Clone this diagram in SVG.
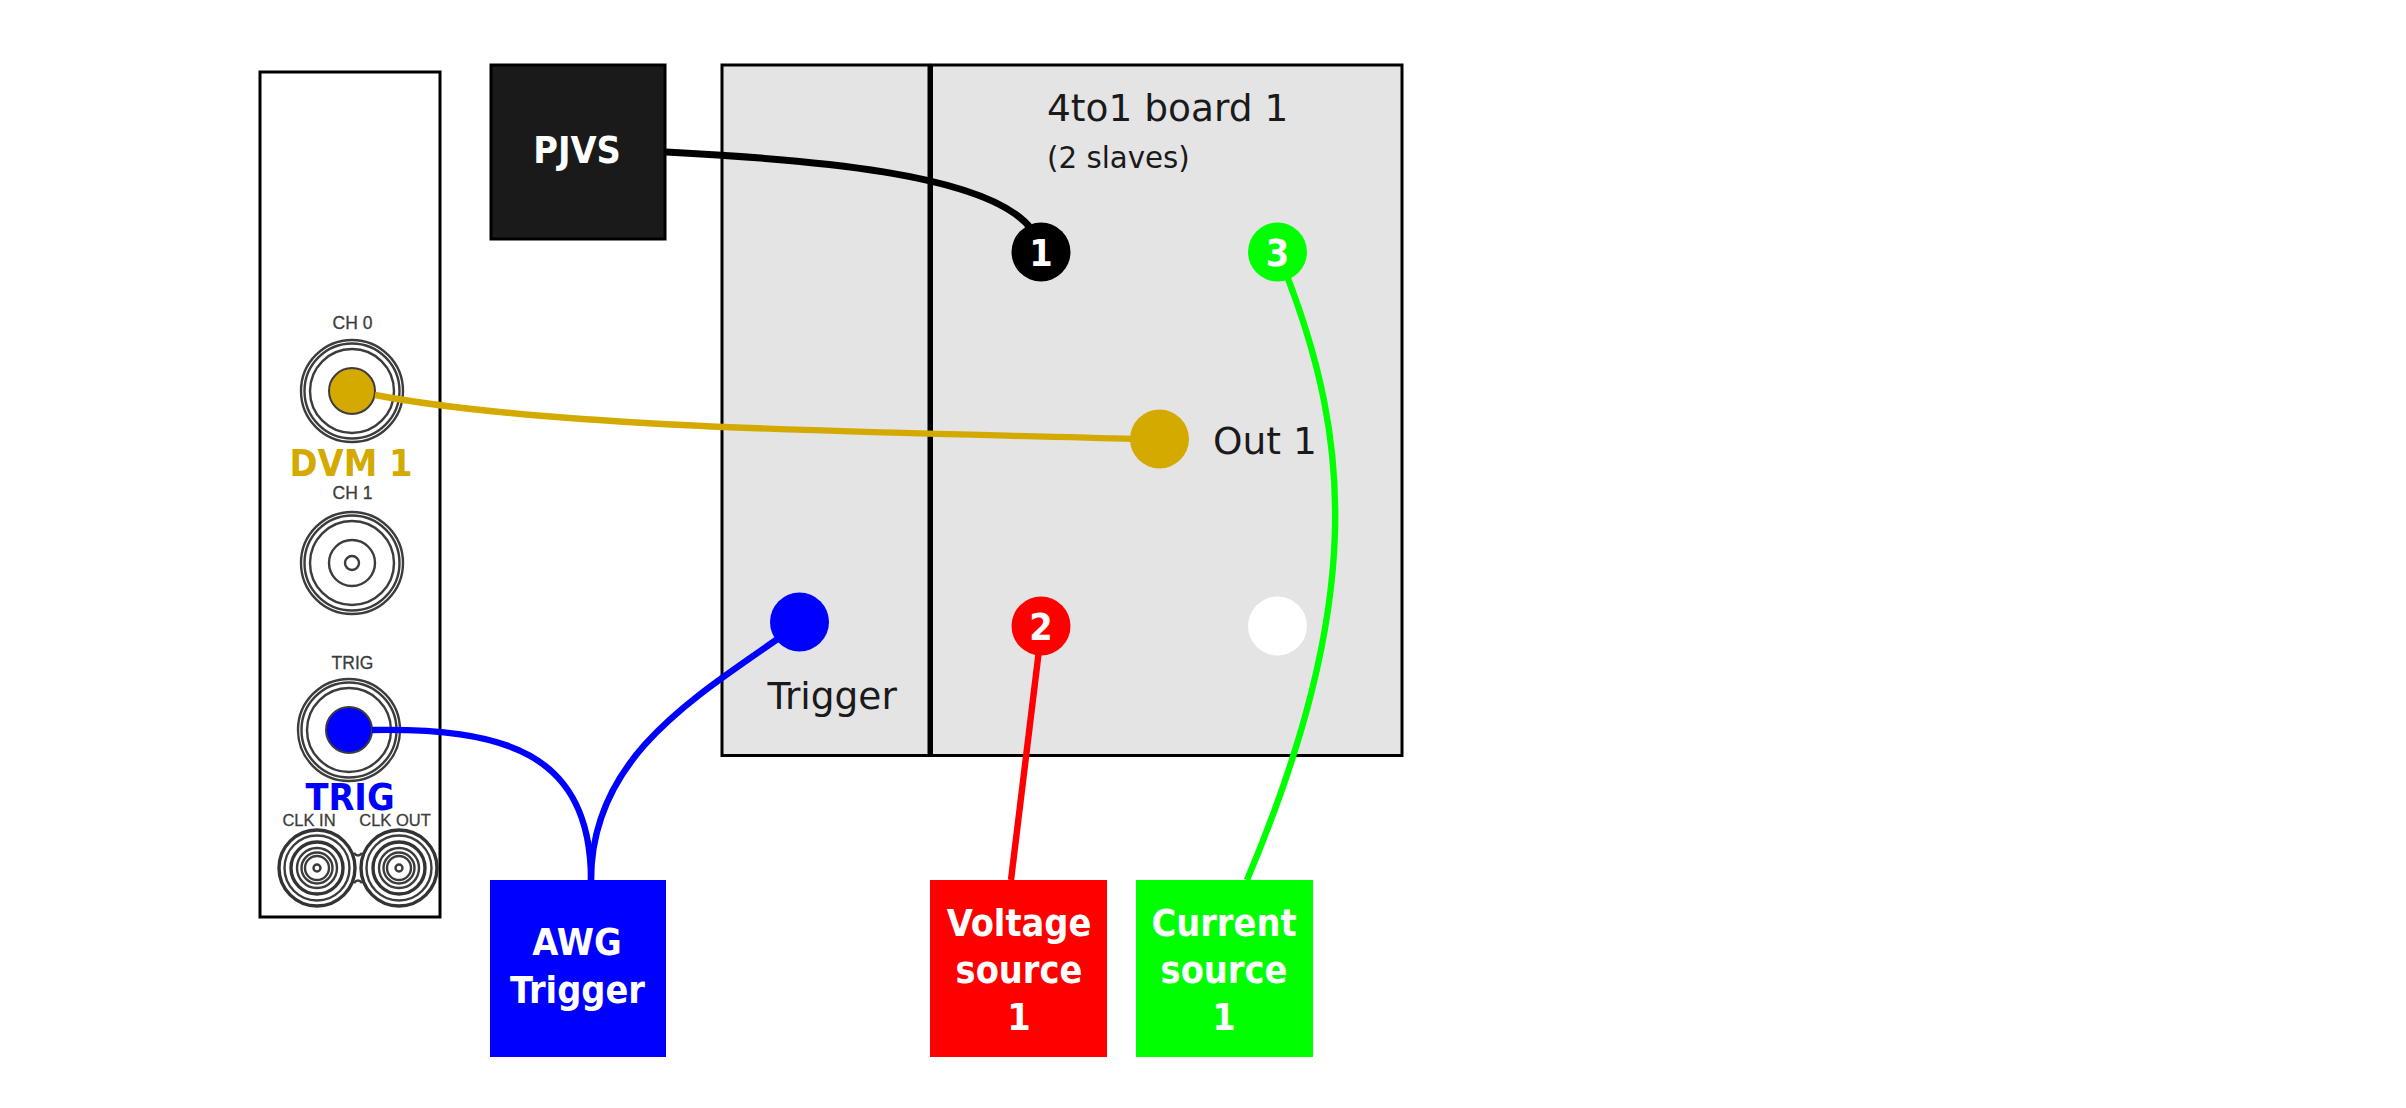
<svg xmlns="http://www.w3.org/2000/svg" width="2406" height="1108" viewBox="0 0 2406 1108">
<style>
text{font-family:"DejaVu Sans",sans-serif;text-anchor:middle}
.lbl{font-family:"DejaVu Sans Condensed","DejaVu Sans",sans-serif;font-stretch:condensed;font-size:37.500px;font-weight:bold;fill:#fff}
.head{font-family:"DejaVu Sans Condensed","DejaVu Sans",sans-serif;font-stretch:condensed;font-size:37.500px;font-weight:bold}
.brd{font-size:37.500px;fill:#1a1a1a;text-anchor:start}
.tiny{font-family:"Liberation Sans",Arial,sans-serif;font-size:17.500px;fill:#3c3c3c;stroke:#3c3c3c;stroke-width:.3}
.ring{fill:none;stroke:#3c3c3c;stroke-width:2.400}
.ring2{fill:none;stroke:#333;stroke-width:3.400}
.wire{fill:none;stroke-width:6.400;stroke-linecap:butt}
.panel{fill:#e4e4e4;stroke:#000;stroke-width:3}
</style>
<defs>
<g id="bnc"><circle r="51" class="ring"/><circle r="47.500" class="ring"/><circle r="42" class="ring"/></g>
<g id="clk"><circle r="38" class="ring2"/><circle r="32.500" class="ring"/><circle r="26" class="ring2"/><circle r="20" class="ring"/><circle r="15.500" class="ring"/><circle r="12" class="ring"/><circle r="3.500" class="ring"/></g>
</defs>
<rect width="2406" height="1108" fill="#fff"/>
<g id="dvm-panel">
<rect x="260" y="72" width="180" height="845" fill="#fff" stroke="#000" stroke-width="3"/>
<text class="tiny" x="352.500" y="329">CH 0</text>
<use href="#bnc" x="352" y="391"/>
<circle cx="352" cy="391" r="23" fill="#d4aa00" stroke="#3c3c3c" stroke-width="2"/>
<text class="head" x="351" y="476" fill="#d4aa00">DVM 1</text>
<text class="tiny" x="352.500" y="499">CH 1</text>
<use href="#bnc" x="352" y="563"/>
<circle cx="352" cy="563" r="23" class="ring"/><circle cx="352" cy="563" r="7" class="ring"/>
<text class="tiny" x="352.500" y="669">TRIG</text>
<use href="#bnc" x="349" y="730"/>
<circle cx="349" cy="730" r="23" fill="#00f" stroke="#3c3c3c" stroke-width="2"/>
<text class="head" x="350" y="810" fill="#00f">TRIG</text>
<text class="tiny" x="309" y="826" style="font-size:16.500px">CLK IN</text>
<text class="tiny" x="395" y="826" style="font-size:16.500px">CLK OUT</text>
<use href="#clk" x="317" y="868"/>
<use href="#clk" x="399" y="868"/>
<path d="M354 853Q358 858 362 853M354 883Q358 878 362 883" class="ring"/>
</g>
<g id="pjvs"><rect x="491" y="65" width="174" height="174" fill="#1a1a1a" stroke="#000" stroke-width="3"/><text class="lbl" x="577" y="163">PJVS</text></g>
<g id="board">
<rect class="panel" x="722" y="65" width="207" height="690.500"/>
<rect class="panel" x="931.500" y="65" width="470.500" height="690.500"/>
<text class="brd" x="1047" y="120.500">4to1 board 1</text>
<text class="brd" style="font-size:29.300px" x="1047" y="168">(2 slaves)</text>
<text class="brd" x="1213" y="454">Out 1</text>
<text class="brd" x="767.500" y="709">Trigger</text>
</g>
<g id="connectors">
<path class="wire" stroke="#000" style="stroke-width:7" d="M666 152C800 159 990 172 1032 230"/>
<path class="wire" stroke="#d4aa00" d="M375 395C560 430 900 432 1135 439"/>
<path class="wire" stroke="#0f0" d="M1287 276C1350 440 1365 600 1247 880"/>
<path class="wire" stroke="#f00" d="M1039 650L1011 880"/>
<path class="wire" stroke="#00f" d="M372 730C500 728 591 750 591 880"/>
<path class="wire" stroke="#00f" d="M779 638C690 700 591 760 591 880"/>
</g>
<g id="pin1"><circle cx="1041" cy="252" r="29.500" fill="#000"/><text class="lbl" x="1041" y="266">1</text></g>
<g id="pin3"><circle cx="1277.500" cy="252" r="29.500" fill="#0f0"/><text class="lbl" x="1277.500" y="266">3</text></g>
<g id="pinout"><circle cx="1159.500" cy="439" r="29.500" fill="#d4aa00"/></g>
<g id="pin2"><circle cx="1041" cy="626" r="29.500" fill="#f00"/><text class="lbl" x="1041" y="640">2</text></g>
<g id="pin4"><circle cx="1277.500" cy="626" r="29.500" fill="#fff"/></g>
<g id="pintrig"><circle cx="799.500" cy="622" r="29.500" fill="#00f"/></g>
<g id="awg"><rect x="490" y="880" width="176" height="177" fill="#00f"/><text class="lbl" x="577" y="955">AWG</text><text class="lbl" x="577.500" y="1003">Trigger</text></g>
<g id="voltage"><rect x="930" y="880" width="177" height="177" fill="#f00"/><text class="lbl" x="1019" y="936">Voltage</text><text class="lbl" x="1019" y="983">source</text><text class="lbl" x="1019" y="1030">1</text></g>
<g id="current"><rect x="1136" y="880" width="177" height="177" fill="#0f0"/><text class="lbl" x="1224" y="936">Current</text><text class="lbl" x="1224" y="983">source</text><text class="lbl" x="1224" y="1030">1</text></g>
</svg>
